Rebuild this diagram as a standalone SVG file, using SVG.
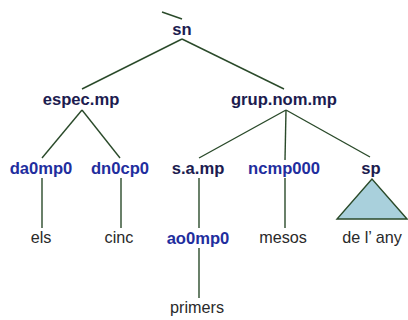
<svg xmlns="http://www.w3.org/2000/svg" width="408" height="320" viewBox="0 0 408 320">
<style>
.e{stroke:#2a4a2a;stroke-width:1.4;fill:none}
.c{font-family:"Liberation Sans",Arial,sans-serif;font-size:16.6px;font-weight:bold;fill:#1c1c50;text-anchor:middle}
.p{font-family:"Liberation Sans",Arial,sans-serif;font-size:16.6px;font-weight:bold;fill:#1f2e9e;text-anchor:middle}
.w{font-family:"Liberation Sans",Arial,sans-serif;font-size:16.2px;fill:#2a2a2a;text-anchor:middle}
.t{fill:#a9d0dc;stroke:#2a4a2a;stroke-width:1.4}
</style>
<rect width="408" height="320" fill="#ffffff"/>
<g id="connectors">
<line class="e" x1="162" y1="12" x2="182" y2="19"/>
<line class="e" x1="182" y1="39" x2="82" y2="89"/>
<line class="e" x1="182" y1="39" x2="284" y2="89"/>
<line class="e" x1="82" y1="110" x2="42" y2="158"/>
<line class="e" x1="82" y1="110" x2="120" y2="158"/>
<line class="e" x1="286" y1="110" x2="199" y2="158"/>
<line class="e" x1="286" y1="110" x2="285" y2="160"/>
<line class="e" x1="286" y1="110" x2="370" y2="157"/>
<line class="e" x1="42" y1="178" x2="42" y2="228"/>
<line class="e" x1="121" y1="178" x2="121" y2="228"/>
<line class="e" x1="199" y1="178" x2="199" y2="228"/>
<line class="e" x1="285" y1="178" x2="285" y2="228"/>
<line class="e" x1="199" y1="248" x2="199" y2="298"/>
</g>
<g id="sn"><text class="c" x="182" y="34.5">sn</text></g>
<g id="espec"><text class="c" x="81" y="104.5">espec.mp</text></g>
<g id="grup"><text class="c" x="284" y="104.5">grup.nom.mp</text></g>
<g id="da0mp0"><text class="p" x="41" y="174">da0mp0</text></g>
<g id="dn0cp0"><text class="p" x="120" y="174">dn0cp0</text></g>
<g id="samp"><text class="c" x="198" y="174">s.a.mp</text></g>
<g id="ncmp000"><text class="p" x="284" y="174">ncmp000</text></g>
<g id="sp"><text class="c" x="371" y="174">sp</text>
<polygon class="t" points="372,179 337,219 407,219"/></g>
<g id="els"><text class="w" x="41" y="243">els</text></g>
<g id="cinc"><text class="w" x="119" y="243">cinc</text></g>
<g id="ao0mp0"><text class="p" x="198" y="244">ao0mp0</text></g>
<g id="mesos"><text class="w" x="283" y="243">mesos</text></g>
<g id="delany"><text class="w" x="372" y="243">de l’ any</text></g>
<g id="primers"><text class="w" x="197" y="313">primers</text></g>
</svg>
